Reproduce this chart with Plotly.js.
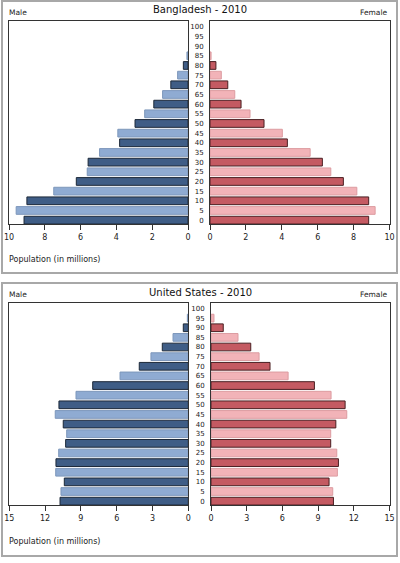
<!DOCTYPE html>
<html>
<head>
<meta charset="utf-8">
<script src="https://cdn.plot.ly/plotly-3.0.1.min.js"></script>
<style>html,body{margin:0;padding:0;background:#fff;}#chart{width:400px;height:563px;}</style>
</head>
<body>
<div id="chart"></div>
<script>
// Age groups (lower bound of 5-year band)
const ages = [0,5,10,15,20,25,30,35,40,45,50,55,60,65,70,75,80,85,90,95,100];
const ageLabels = ages.map(String);

// Bangladesh 2010, population in millions
const bdMale   = [9.16,9.6,9.0,7.5,6.24,5.63,5.58,4.94,3.82,3.92,2.96,2.42,1.91,1.42,0.96,0.58,0.26,0.06,0,0,0];
const bdFemale = [8.84,9.2,8.84,8.18,7.43,6.73,6.26,5.58,4.31,4.03,3.01,2.23,1.73,1.38,0.99,0.63,0.33,0.06,0,0,0];

// United States 2010, population in millions
const usMale   = [10.75,10.67,10.39,11.11,11.09,10.86,10.28,10.19,10.48,11.15,10.84,9.41,8.01,5.72,4.11,3.13,2.18,1.28,0.42,0.08,0];
const usFemale = [10.29,10.23,9.92,10.62,10.71,10.57,10.06,10.06,10.49,11.41,11.27,10.09,8.69,6.48,4.96,4.04,3.34,2.27,1.03,0.25,0];

const titles = ["Bangladesh - 2010", "United States - 2010"];

const maleDark = "#3f5d86", maleLight = "#8fabd2";
const femDark = "#c45a62", femLight = "#f2b3b8";
const isDark = ages.map(a => a % 10 === 0);
const mCol = isDark.map(d => d ? maleDark : maleLight);
const mLine = isDark.map(d => d ? "#1c2838" : "#7d97bb");
const fCol = isDark.map(d => d ? femDark : femLight);
const fLine = isDark.map(d => d ? "#4a1f22" : "#dc9ca1");

function bar(x, colors, lines, xa, ya) {
  return {type:"bar", orientation:"h", x:x, y:ages, xaxis:xa, yaxis:ya,
    marker:{color:colors, line:{color:lines, width:x.map(v => v > 0 ? 1 : 0)}},
    hoverinfo:"none", showlegend:false};
}

const data = [
  bar(bdMale, mCol, mLine, "x", "y"),
  bar(bdFemale, fCol, fLine, "x2", "y2"),
  bar(usMale, mCol, mLine, "x3", "y3"),
  bar(usFemale, fCol, fLine, "x4", "y4")
];

const W = 400, H = 563;
const px = v => v / W;
const py = v => 1 - v / H;
const font = {family:"DejaVu Sans", size:8, color:"#222"};

function xax(domain, range, dtick, anchor) {
  return {domain:domain, range:range, dtick:dtick, tick0:0, anchor:anchor,
    showgrid:false, zeroline:false, showline:true, mirror:true, linecolor:"#333", linewidth:1,
    ticks:"outside", ticklen:5, tickcolor:"#333", tickfont:font, fixedrange:true};
}
function yax(domain, anchor, labels) {
  return {domain:domain, range:[-2, 103], anchor:anchor, tickvals:ages, ticktext:ageLabels,
    showticklabels:labels, side:"left", ticks:"", ticklabelstandoff:4,
    tickfont:{family:"DejaVu Sans", size:7, color:"#222"},
    showgrid:false, zeroline:false, showline:true, mirror:true, linecolor:"#333", linewidth:1, fixedrange:true};
}

const topY = [py(224), py(21)];
const botY = [py(505), py(302.7)];

const layout = {
  width:W, height:H, autosize:false,
  margin:{l:0, r:0, t:0, b:0, pad:0},
  paper_bgcolor:"#fff", plot_bgcolor:"#fff",
  bargap:0.2, font:font,
  xaxis: xax([px(9), px(188)], [10, 0], 2, "y"),
  yaxis: yax(topY, "x", false),
  xaxis2: xax([px(210), px(389.5)], [0, 10], 2, "y2"),
  yaxis2: yax(topY, "x2", true),
  xaxis3: xax([px(9.3), px(188.3)], [15, 0], 3, "y3"),
  yaxis3: yax(botY, "x3", false),
  xaxis4: xax([px(211), px(389.5)], [0, 15], 3, "y4"),
  yaxis4: yax(botY, "x4", true),
  shapes: [
    {type:"rect", xref:"paper", yref:"paper", x0:px(2), x1:px(397), y0:py(273), y1:py(1), line:{color:"#a8a8a8", width:2}},
    {type:"rect", xref:"paper", yref:"paper", x0:px(2), x1:px(397), y0:py(556), y1:py(283), line:{color:"#a8a8a8", width:2}}
  ],
  annotations: []
};

const panelTop = [0, 282];
const popY = [259, 541.7];
for (let i = 0; i < 2; i++) {
  const o = panelTop[i];
  layout.annotations.push(
    {xref:"paper", yref:"paper", x:px(200), y:py(o + 10), text:titles[i], showarrow:false,
     xanchor:"center", yanchor:"middle", font:{family:"DejaVu Sans", size:10, color:"#111"}},
    {xref:"paper", yref:"paper", x:px(7), y:py(o + 12), text:"Male", showarrow:false,
     xanchor:"left", yanchor:"middle", font:{family:"DejaVu Sans", size:7.5, color:"#222"}},
    {xref:"paper", yref:"paper", x:px(390), y:py(o + 12), text:"Female", showarrow:false,
     xanchor:"right", yanchor:"middle", font:{family:"DejaVu Sans", size:7.5, color:"#222"}},
    {xref:"paper", yref:"paper", x:px(7), y:py(popY[i]), text:"Population (in millions)", showarrow:false,
     xanchor:"left", yanchor:"middle", font:{family:"DejaVu Sans", size:8, color:"#222"}}
  );
}

Plotly.newPlot("chart", data, layout, {staticPlot:true, displayModeBar:false});
</script>
</body>
</html>
